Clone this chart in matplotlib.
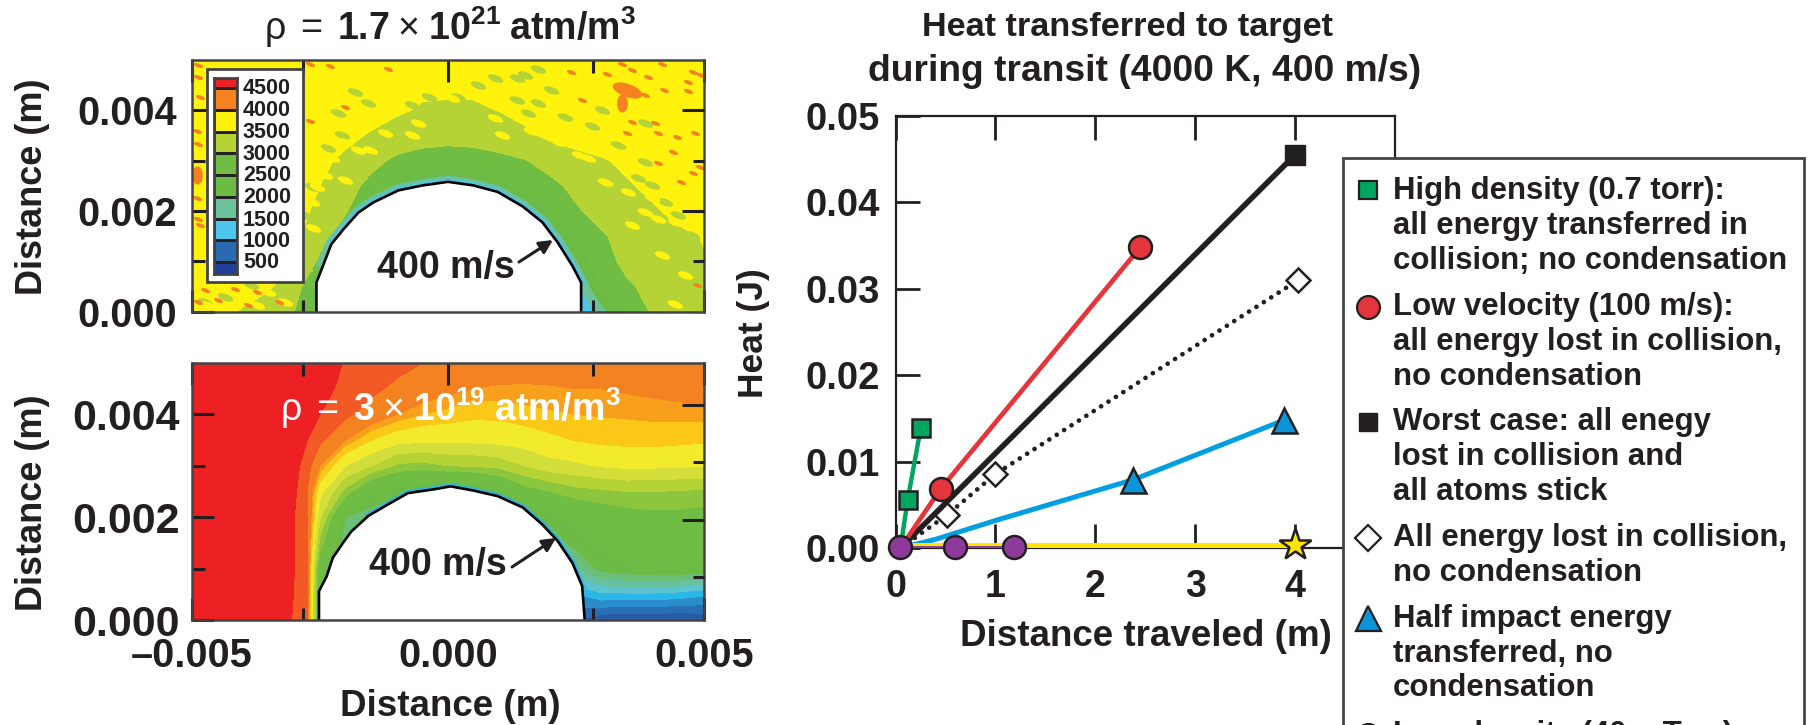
import numpy as np
import matplotlib
matplotlib.use("Agg")
import matplotlib.pyplot as plt
from matplotlib.colors import BoundaryNorm, ListedColormap
from matplotlib.markers import MarkerStyle
from matplotlib.patches import Rectangle
from matplotlib.path import Path
from matplotlib.transforms import Affine2D

plt.rcParams['font.family'] = ['Liberation Sans', 'DejaVu Sans']
plt.rcParams['font.weight'] = 'bold'
plt.rcParams['mathtext.fontset'] = 'custom'
plt.rcParams['mathtext.rm'] = 'Liberation Sans:regular'
plt.rcParams['mathtext.it'] = 'Liberation Sans:regular'
plt.rcParams['mathtext.bf'] = 'Liberation Sans:bold'

W, H = 1809, 725
INK = '#231f20'
FRAME = '#444444'

# ---- contour panels: grid in mm, temperature in K ----
grid_x = [-5, -4.5, -4, -3.5, -3, -2.5, -2, -1.5, -1, -.5, 0, .5, 1, 1.5, 2, 2.5, 3, 3.5, 4, 4.5, 5]
grid_x_thin = [-5, -4.5, -4, -3.5, -3, -2.75, -2.5, -2, -1.5, -1, -.5, 0, .5, 1, 1.5, 2, 2.5, 3, 3.5, 4, 4.5, 5]
grid_y = [5, 4.5, 4, 3.5, 3, 2.5, 2, 1.5, 1, .5, 0]

temp_dense = [
    [3900, 3900, 3900, 3900, 3900, 3900, 3850, 3850, 3800, 3750, 3750, 3750, 3800, 3850, 3900, 3900, 3900, 3950, 3950, 3950, 3950],
    [3900, 3900, 3850, 3850, 3850, 3850, 3800, 3720, 3650, 3600, 3600, 3600, 3640, 3720, 3800, 3850, 3900, 3900, 3900, 3900, 3900],
    [3850, 3850, 3850, 3850, 3850, 3850, 3800, 3700, 3560, 3450, 3420, 3430, 3510, 3650, 3750, 3850, 3850, 3900, 3900, 3900, 3900],
    [3850, 3850, 3850, 3850, 3800, 3800, 3620, 3450, 3300, 3200, 3150, 3180, 3250, 3400, 3600, 3750, 3800, 3850, 3850, 3850, 3850],
    [3850, 3850, 3850, 3800, 3750, 3600, 3400, 3150, 2900, 2800, 2780, 2800, 2880, 2980, 3150, 3300, 3450, 3600, 3700, 3800, 3850],
    [3850, 3850, 3800, 3750, 3700, 3500, 3200, 2850, 2300, 1900, 1800, 1900, 2200, 2600, 2900, 3100, 3300, 3450, 3600, 3700, 3800],
    [3850, 3850, 3750, 3700, 3650, 3400, 3050, 2500, 1800, 1800, 1800, 1800, 1800, 2000, 2500, 2950, 3150, 3300, 3450, 3600, 3650],
    [3850, 3800, 3750, 3700, 3600, 3200, 2700, 1800, 1800, 1800, 1800, 1800, 1800, 1800, 2100, 2600, 2950, 3150, 3300, 3420, 3520],
    [3850, 3750, 3700, 3650, 3550, 2900, 1800, 1800, 1800, 1800, 1800, 1800, 1800, 1800, 1800, 2100, 2850, 3100, 3250, 3350, 3480],
    [3850, 3750, 3700, 3550, 3200, 2500, 1800, 1800, 1800, 1800, 1800, 1800, 1800, 1800, 1800, 1400, 2500, 2950, 3100, 3300, 3400],
    [3900, 3650, 3450, 3300, 3000, 2000, 1800, 1800, 1800, 1800, 1800, 1800, 1800, 1800, 1500, 700, 1800, 2700, 3050, 3250, 3350],
]

temp_thin = [
    [5000, 5000, 5000, 5000, 4800, 4720, 4650, 4480, 4400, 4320, 4250, 4200, 4120, 4100, 4080, 4060, 4040, 4020, 4040, 4060, 4100, 4120],
    [5000, 5000, 5000, 5000, 4750, 4680, 4600, 4420, 4300, 4200, 4120, 4050, 4000, 3980, 3980, 3990, 4000, 4000, 4020, 4040, 4060, 4080],
    [5000, 5000, 5000, 5000, 4700, 4600, 4500, 4300, 4150, 4000, 3900, 3850, 3800, 3800, 3850, 3880, 3900, 3910, 3920, 3930, 3940, 3950],
    [5000, 5000, 5000, 5000, 4650, 4500, 4300, 4000, 3750, 3600, 3550, 3550, 3560, 3580, 3620, 3700, 3760, 3800, 3810, 3820, 3800, 3780],
    [5000, 5000, 5000, 5000, 4600, 4350, 4000, 3500, 3250, 2950, 2900, 3000, 3020, 3080, 3250, 3400, 3450, 3520, 3560, 3550, 3530, 3520],
    [5000, 5000, 5000, 5000, 4550, 4250, 3600, 2900, 2300, 2050, 1900, 1800, 1900, 2200, 2600, 2750, 2900, 2950, 3000, 3000, 2980, 2950],
    [5000, 5000, 5000, 5000, 4500, 4300, 3300, 2000, 1800, 1800, 1800, 1800, 1800, 1800, 1900, 2100, 2350, 2500, 2600, 2650, 2650, 2600],
    [5000, 5000, 5000, 5000, 4500, 4280, 2900, 1800, 1800, 1800, 1800, 1800, 1800, 1800, 1800, 1800, 2100, 2300, 2400, 2450, 2450, 2400],
    [5000, 5000, 5000, 5000, 4500, 4280, 2400, 1800, 1800, 1800, 1800, 1800, 1800, 1800, 1800, 1800, 1700, 2100, 2200, 2250, 2250, 2200],
    [5000, 5000, 5000, 5000, 4480, 4280, 2300, 1800, 1800, 1800, 1800, 1800, 1800, 1800, 1800, 1500, 1000, 1200, 1200, 1200, 1150, 1050],
    [5000, 5000, 5000, 4900, 4450, 4280, 2200, 1800, 1800, 1800, 1800, 1800, 1800, 1800, 1800, 1000, 500, 300, 250, 250, 250, 300],
]

levels_dense = [0, 500, 1000, 1500, 2000, 2500, 3000, 3500, 4000, 4500, 6000]
colors_dense = ['#1f3f99', '#2a6ab0', '#4cc6ec', '#6cc29b', '#6cbb45', '#70bd44',
                '#b5d334', '#fff20d', '#f58220', '#ed2024']
levels_thin = [0, 250, 500, 750, 1000, 1250, 1500, 1750, 2000, 2250, 2500, 2750, 3000,
               3250, 3500, 3750, 3900, 4000, 4250, 4500, 6000]
colors_thin = ['#2e4a9c', '#2b5aa5', '#2a6fb5', '#2a8ccb', '#2bb7e8', '#5cc4cf', '#68c1a0',
               '#6bbf78', '#6cbb45', '#6fbd44', '#70bd44', '#8cc63f', '#b5d334', '#d4de3a',
               '#f2ea2d', '#fbc81a', '#f8a01c', '#f58220', '#f15a24', '#ed2024']

# target outline, mm
rim_dense_x = [-2.57, -2.57, -2.42, -2.28, -2.04, -1.75, -1.46, -.97, -.49, 0, .49, .97, 1.46, 1.84, 2.14, 2.43, 2.6, 2.6]
rim_dense_y = [0, .58, .97, 1.34, 1.64, 1.97, 2.17, 2.41, 2.51, 2.58, 2.51, 2.38, 2.09, 1.78, 1.38, .91, .58, 0]
rim_thin_x = [-2.52, -2.52, -2.37, -2.25, -2.03, -1.89, -1.55, -1.17, -.78, -.29, .05, .49, .97, 1.46, 1.84, 2.14, 2.43, 2.62, 2.67]
rim_thin_y = [0, .56, .85, 1.21, 1.53, 1.72, 2.03, 2.25, 2.47, 2.54, 2.6, 2.52, 2.41, 2.19, 1.86, 1.54, 1.11, .66, 0]

# flecks in the dense panel, mm
orange_x = [2.41, 3.39, 4.17, 3.59, 3.91, 4.79, 4.95, 3.59, 3.85, 4.21, 4.69, 4.69, 2.61, 3.59, 3.49,
            4.04, 4.11, 4.82, 4.47, 4.40, 4.11, 4.92, 4.79, 4.56, 4.86, 3.1, -4.88, -4.88, -4.84, -4.91,
            -4.88, -4.91, -4.88, -4.84, -2.69, -1.17, -2.31, -2.69, -2.01, -3.74, -4.49, -4.16, -4.75, -3.31, -3.9, -4.88]
orange_y = [4.77, 4.93, 4.93, 4.80, 4.67, 4.77, 4.70, 4.40, 4.30, 4.40, 4.57, 4.38, 4.20, 3.77, 3.54,
            3.74, 3.54, 3.54, 3.48, 3.18, 2.95, 2.88, 2.75, 2.58, .53, 4.73, 4.9, 4.67, 4.27, 3.58,
            3.34, 2.25, 1.85, 1.72, 3.79, 4.83, 4.89, 4.92, 4.07, .4, .23, .46, .43, .2, .13, .2]
streak_x = [3.5]
streak_y = [4.4]
blob_x = [3.39, -4.91]
blob_y = [4.14, 2.72]
yellow_x = [-.58, -1.23, -.71, -2.01, -1.52, -1.75, -2.27, -2.4, -2.01, -2.56, -2.66, -2.63, -4.36, -4.03, -3.51,
            -3.18, -4.68, -3.74, .07, .33, 1.05, 1.63, .92, 2.15, 2.55, 2.74, 3.07, 3.52, 3.85, 4.11, 4.43, 3.59,
            4.17, 4.43, 4.63, 3.98, 1.89]
yellow_y = [3.74, 3.54, 3.51, 3.38, 3.21, 3.21, 3.05, 2.71, 2.62, 2.48, 2.18, 1.66, .46, .26, .4,
            .2, .13, .13, 4.24, 4.37, 3.51, 3.58, 3.84, 3.38, 3.11, 3.05, 2.58, 2.38, 1.99, 1.85, 1.79, 1.72,
            1.12, .16, .73, 2.25, 3.77]
lime_x = [.59, .2, .92, 1.34, 1.5, 1.76, 2.02, 1.76, 1.34, 2.28, 1.57, 3.0, 3.33, 3.85, 2.81, 3.72, 3.98, 4.24, 4.5,
          4.76, 4.82, 3.85, -1.82, -1.56, -.71, -2.14, -.38, -2.08, -2.34, -2.66, -2.79, -2.73, -2.79, -4.36, -3.84, -3.18, -4.75]
lime_y = [4.5, 4.27, 4.64, 4.64, 4.7, 4.83, 4.4, 4.14, 4.2, 3.87, 3.94, 4.0, 3.31, 3.74, 3.68, 2.65, 2.52, 2.18, 1.92,
          1.52, 1.12, 2.98, 4.37, 4.14, 4.1, 3.94, 4.27, 3.51, 3.25, 2.48, 1.92, 1.39, .86, .3, .53, .53, .2]

# ---- heat curves: distance (m), heat (J) ----
green_d, green_q = [.05, .122, .253], [0, .0056, .0139]
red_d, red_q = [.05, .453, 2.45], [0, .00686, .0348]
black_d, black_q = [.05, 4.0], [0, .0455]
dia_d, dia_q = [.05, .52, 1.0, 4.03], [0, .00386, .00856, .031]
blue_d, blue_q = [.05, .4, 1.02, 2.38, 3.89], [0, .001, .00325, .0079, .0148]
blue_mark_d, blue_mark_q = [2.38, 3.89], [.0079, .0148]
star_d, star_q = [.05, 4.0], [.0003, .0003]
purple_d, purple_q = [.05, .6, 1.19], [.0001, .0001, .0001]

legend_lines = [
    ['High density (0.7 torr):', 'all energy transferred in', 'collision; no condensation'],
    ['Low velocity (100 m/s):', 'all energy lost in collision,', 'no condensation'],
    ['Worst case: all enegy', 'lost in collision and', 'all atoms stick'],
    ['All energy lost in collision,', 'no condensation'],
    ['Half impact energy', 'transferred, no', 'condensation'],
    ['Low density (40 mTorr)'],
]
legend_rows = [[190.7, 225.6, 261], [306.5, 341.8, 376.7], [422, 457, 492], [538, 573], [619.5, 653.7, 688], [735]]

fleck = Path.unit_circle().transformed(Affine2D().scale(1, .42).rotate_deg(-20))
blob = Path.unit_circle().transformed(Affine2D().scale(.6, 1))


def axes_px(left, top, right, bottom, **kw):
    return fig.add_axes([left / W, 1 - bottom / H, (right - left) / W, (bottom - top) / H], **kw)


def contour_panel(ax, xs, temps, levels, colors, rim_x, rim_y, right_ticks):
    norm = BoundaryNorm(levels, len(colors))
    ax.contourf(xs, grid_y, np.array(temps), levels=levels, cmap=ListedColormap(colors), norm=norm, zorder=1)
    ax.fill(rim_x, rim_y, color='white', zorder=5)
    ax.plot(rim_x, rim_y, color='black', lw=1.9, zorder=6, solid_joinstyle='miter')
    ax.set_xlim(-5, 5)
    ax.set_ylim(0, 5)
    ax.set_xticks([-5, 0, 5])
    ax.set_xticks([-2.84, 2.84], minor=True)
    ax.set_yticks([0, 2, 4])
    ax.set_yticks([1, 3], minor=True)
    ax.tick_params(which='major', direction='in', length=16, width=2.2, top=True, color=INK, zorder=8)
    ax.tick_params(which='minor', direction='in', length=9, width=2.2, top=True, color=INK)
    for s in ax.spines.values():
        s.set_linewidth(1.8)
        s.set_color(FRAME)
        s.set_zorder(9)
    tw = ax.twinx()
    tw.set_ylim(0, 5)
    tw.set_yticks(right_ticks[0])
    tw.set_yticks(right_ticks[1], minor=True)
    tw.set_yticklabels([])
    tw.tick_params(which='major', direction='in', length=16, width=2.2, color=INK)
    tw.tick_params(which='minor', direction='in', length=8, width=2.2, color=INK)
    for s in tw.spines.values():
        s.set_visible(False)


fig = plt.figure(figsize=(W / 100, H / 100), dpi=100)

# top contour panel
ax_a = axes_px(192, 60, 704, 311.7)
contour_panel(ax_a, grid_x, temp_dense, levels_dense, colors_dense, rim_dense_x, rim_dense_y, ([2, 4], [1, 3]))
ax_a.scatter(lime_x, lime_y, s=130, marker=MarkerStyle(fleck), color='#b5d334', lw=0, zorder=2)
ax_a.scatter(yellow_x, yellow_y, s=130, marker=MarkerStyle(fleck), color='#fff20d', lw=0, zorder=3)
ax_a.scatter(orange_x, orange_y, s=45, marker=MarkerStyle(fleck), color='#f58220', lw=0, zorder=4)
ax_a.scatter(streak_x, streak_y, s=480, marker=MarkerStyle(fleck), color='#f58220', lw=0, zorder=4)
ax_a.scatter(blob_x, blob_y, s=170, marker=MarkerStyle(blob), color='#f58220', lw=0, zorder=4)
# thin cooled layer on the target face
ax_a.plot(rim_dense_x[2:-1], rim_dense_y[2:-1], color='#6cc29b', lw=9, zorder=4.2)
ax_a.plot(rim_dense_x[3:-1], rim_dense_y[3:-1], color='#4cc6ec', lw=4.5, zorder=4.4)
ax_a.set_xticklabels([])
ax_a.set_yticklabels(['0.000', '0.002', '0.004'], fontsize=28.5, color=INK)
ax_a.tick_params(axis='y', which='major', pad=11)

# bottom contour panel
ax_b = axes_px(192, 363, 704, 620)
contour_panel(ax_b, grid_x_thin, temp_thin, levels_thin, colors_thin, rim_thin_x, rim_thin_y, ([1.94, 4.18], [.84, 3.07]))
ax_b.plot(rim_thin_x[6:-1], rim_thin_y[6:-1], color='#2bb7e8', lw=4.5, zorder=4.4)
ax_b.set_xticklabels(['\u20130.005', '0.000', '0.005'], fontsize=28.5, color=INK)
ax_b.set_yticklabels(['0.000', '0.002', '0.004'], fontsize=31, color=INK)
ax_b.tick_params(axis='x', which='major', pad=12)
ax_b.tick_params(axis='y', which='major', pad=9)

# heat panel
ax_c = axes_px(895.5, 116, 1395, 548)
ax_c.plot(green_d, green_q, color='#00a65f', lw=3.2, marker='s', ms=12.5, mfc='#00a65f', mec=INK, mew=1.8, markevery=[1, 2], zorder=3)
ax_c.plot(red_d, red_q, color='#e4343c', lw=3.4, marker='o', ms=16.5, mfc='#e4343c', mec=INK, mew=1.8, markevery=[1, 2], zorder=4)
ax_c.plot(black_d, black_q, color=INK, lw=4, marker='s', ms=14, mfc=INK, mec=INK, markevery=[1], zorder=3)
ax_c.plot(dia_d, dia_q, color=INK, lw=3.4, ls=(0, (.01, 1.85)), dash_capstyle='round', zorder=2)
ax_c.plot(dia_d[1:], dia_q[1:], color='none', marker='D', ms=12.5, mfc='white', mec=INK, mew=1.8, zorder=5)
ax_c.plot(blue_d, blue_q, color='#00a0e0', lw=3.6, zorder=3)
ax_c.plot(blue_mark_d, blue_mark_q, color='none', marker='^', ms=18, mfc='#0a94d9', mec=INK, mew=1.8, zorder=4)
ax_c.plot(star_d, star_q, color='#ffe600', lw=3.6, zorder=5)
ax_c.plot(star_d[1:], star_q[1:], color='none', marker='*', ms=24, mfc='#ffe600', mec=INK, mew=1.8, zorder=6, clip_on=False)
ax_c.plot(purple_d, purple_q, color='#8e3b9c', lw=1.4, marker='o', ms=16.5, mfc='#8e3b9c', mec=INK, mew=1.8, zorder=7, clip_on=False)
ax_c.set_xlim(0, 5)
ax_c.set_ylim(0, .05)
ax_c.set_xticks([0, 1, 2, 3, 4])
ax_c.set_yticks([0, .01, .02, .03, .04, .05])
ax_c.set_yticklabels(['0.00', '0.01', '0.02', '0.03', '0.04', '0.05'], fontsize=27.5, color=INK)
ax_c.set_xticklabels(['0', '1', '2', '3', '4'], fontsize=27, color=INK)
ax_c.tick_params(direction='in', length=17.5, width=2, top=True, color=INK)
ax_c.tick_params(axis='x', pad=15)
ax_c.tick_params(axis='y', pad=11)
for s in ax_c.spines.values():
    s.set_linewidth(1.6)
    s.set_color(INK)

# everything placed in pixels sits on this layer
over = fig.add_axes([0, 0, 1, 1], zorder=20)
over.set_xlim(0, W)
over.set_ylim(H, 0)
over.axis('off')

# scale box of the dense panel
over.add_patch(Rectangle((206.7, 69), 96.3, 213, fc='white', ec=FRAME, lw=2))
cax = axes_px(214, 78, 237, 274, zorder=21)
scale_edges = [230, 500, 1000, 1500, 2000, 2500, 3000, 3500, 4000, 4500, 4730]
scale_vals = np.array([[250], [750], [1250], [1750], [2250], [2750], [3250], [3750], [4250], [4600]])
cax.pcolormesh([0, 1], scale_edges, scale_vals, cmap=ListedColormap(colors_dense),
               norm=BoundaryNorm(levels_dense, 10), edgecolors='#222222', linewidth=.9)
cax.set_xticks([])
cax.set_yticks([])
for s in cax.spines.values():
    s.set_linewidth(2)
    s.set_color(FRAME)
for lev, yy in zip([4500, 4000, 3500, 3000, 2500, 2000, 1500, 1000, 500],
                   [88.3, 110.7, 132.3, 154, 175.7, 197.7, 220, 241, 262.3]):
    over.text(243, yy, str(lev), fontsize=15.5, va='center', ha='left', color=INK)

# axis titles and labels
over.text(450, 27, r'$\rho\;\mathrm{=}\;\mathbf{1.7}\;\mathrm{\times}\;\mathbf{10^{21}\;atm/m^3}$', fontsize=27,
          ha='center', va='center', color=INK)
over.text(450, 408, r'$\rho\;\mathrm{=}\;\mathbf{3}\;\mathrm{\times}\;\mathbf{10^{19}\;atm/m^3}$', fontsize=27,
          ha='center', va='center', color='white')
over.text(33, 187, 'Distance (m)', fontsize=26, rotation=90, ha='center', va='center', color=INK)
over.text(33, 503, 'Distance (m)', fontsize=26, rotation=90, ha='center', va='center', color=INK)
over.text(450, 707, 'Distance (m)', fontsize=26.5, ha='center', va='center', color=INK)
over.text(1128, 27, 'Heat transferred to target', fontsize=24.7, ha='center', va='center', color=INK)
over.text(1145, 71, 'during transit (4000 K, 400 m/s)', fontsize=26.8, ha='center', va='center', color=INK)
over.text(753, 333, 'Heat (J)', fontsize=25.5, rotation=90, ha='center', va='center', color=INK)
over.text(1146, 636, 'Distance traveled (m)', fontsize=26.5, ha='center', va='center', color=INK)

# speed notes
over.text(446, 268, '400 m/s', fontsize=27, ha='center', va='center', color=INK)
over.annotate('', xy=(553, 240), xytext=(519, 262), arrowprops=dict(arrowstyle='-|>', color=INK, lw=2.2, mutation_scale=20, shrinkA=0, shrinkB=0))
over.text(438, 565, '400 m/s', fontsize=27, ha='center', va='center', color=INK)
over.annotate('', xy=(556, 538), xytext=(512, 567), arrowprops=dict(arrowstyle='-|>', color=INK, lw=2.2, mutation_scale=20, shrinkA=0, shrinkB=0))

# legend box runs off the bottom of the figure
over.add_patch(Rectangle((1343, 158), 461, 600, fc='white', ec=FRAME, lw=2))
key_y = [190, 306.5, 421.5, 538, 618, 735]
over.plot(1368, key_y[0], 's', ms=13, mfc='#00a65f', mec=INK, mew=1.6)
over.plot(1368, key_y[1], 'o', ms=16.5, mfc='#e4343c', mec=INK, mew=1.6)
over.plot(1368, key_y[2], 's', ms=13.5, mfc=INK, mec=INK)
over.plot(1368, key_y[3], 'D', ms=13.5, mfc='white', mec=INK, mew=1.6)
over.plot(1368, key_y[4], '^', ms=18, mfc='#0a94d9', mec=INK, mew=1.6)
over.plot(1368, key_y[5], 'o', ms=16.5, mfc='#8e3b9c', mec=INK, mew=1.6)
for lines, rows in zip(legend_lines, legend_rows):
    for line, yy in zip(lines, rows):
        over.text(1393, yy, line, fontsize=22.4, ha='left', va='center', color=INK)

fig.savefig('out.png', dpi=100)
